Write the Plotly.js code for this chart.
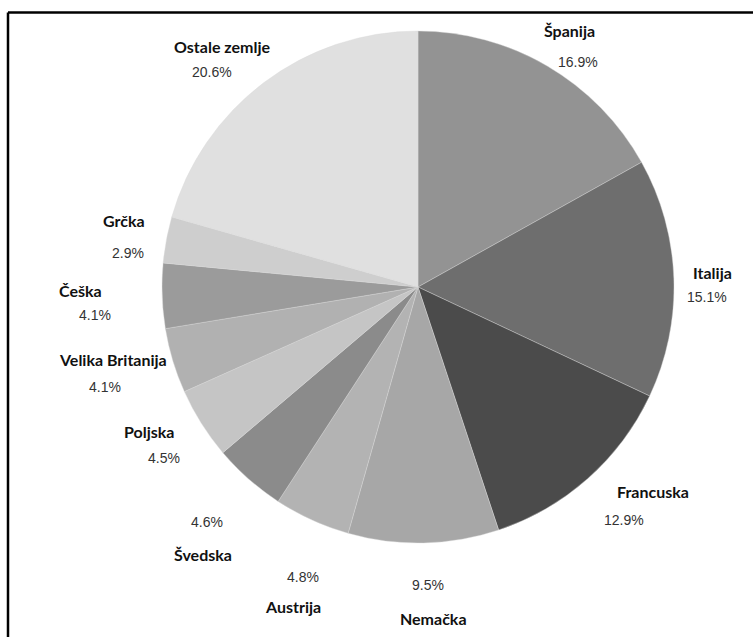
<!DOCTYPE html>
<html>
<head>
<meta charset="utf-8">
<script src="https://cdn.plot.ly/plotly-3.0.1.min.js"></script>
<style>html,body{margin:0;padding:0;background:#fff;}#chart{width:753px;height:637px;}</style>
</head>
<body>
<div id="chart"></div>
<script>
// Data
const countries = ["Španija", "Italija", "Francuska", "Nemačka", "Austrija", "Švedska", "Poljska", "Velika Britanija", "Češka", "Grčka", "Ostale zemlje"];
const shares = [16.9, 15.1, 12.9, 9.5, 4.8, 4.6, 4.5, 4.1, 4.1, 2.9, 20.6];
const sliceColors = ["#939393", "#6e6e6e", "#4b4b4b", "#a7a7a7", "#b3b3b3", "#8b8b8b", "#c5c5c5", "#b1b1b1", "#9b9b9b", "#cecece", "#e0e0e0"];

// Label placement (pixels from top-left): [nameX, nameY, pctX, pctY]
const W = 753, H = 637;
const labelPos = {
  "Španija": [569, 31, 578, 62],
  "Italija": [712, 272, 707, 297],
  "Francuska": [653, 492, 624, 520],
  "Nemačka": [433, 618, 428, 585],
  "Austrija": [293, 606, 303, 577],
  "Švedska": [203, 554, 207, 522],
  "Poljska": [149, 431, 164, 458],
  "Velika Britanija": [113, 359, 105, 387],
  "Češka": [80, 290, 95, 315],
  "Grčka": [124, 221, 128, 253],
  "Ostale zemlje": [222, 46, 212, 72]
};

const annotations = [];
countries.forEach((c, i) => {
  const p = labelPos[c];
  annotations.push({
    x: p[0] / W, y: 1 - p[1] / H, xref: 'paper', yref: 'paper',
    xanchor: 'center', yanchor: 'middle', showarrow: false,
    text: '<b>' + c + '</b>',
    font: {family: 'Lato, "Open Sans", sans-serif', size: 16, color: '#111'}
  });
  annotations.push({
    x: p[2] / W, y: 1 - p[3] / H, xref: 'paper', yref: 'paper',
    xanchor: 'center', yanchor: 'middle', showarrow: false,
    text: shares[i].toFixed(1) + '%',
    font: {family: '"Liberation Sans", Arial, sans-serif', size: 14, color: '#333'}
  });
});

const cx = 418, cy = 287, r = 256;
const trace = {
  type: 'pie',
  labels: countries,
  values: shares,
  sort: false,
  direction: 'clockwise',
  rotation: 0,
  textinfo: 'none',
  hoverinfo: 'none',
  marker: {colors: sliceColors, line: {color: '#d8d8d8', width: 0.4}},
  domain: {x: [(cx - r) / W, (cx + r) / W], y: [1 - (cy + r) / H, 1 - (cy - r) / H]}
};

const layout = {
  width: W, height: H,
  margin: {l: 0, r: 0, t: 0, b: 0},
  paper_bgcolor: '#fff',
  showlegend: false,
  annotations: annotations,
  shapes: [
    {type: 'line', xref: 'paper', yref: 'paper', x0: 8 / W, x1: 8 / W, y0: 0, y1: 1 - 12.5 / H, line: {color: '#000', width: 2.5}},
    {type: 'line', xref: 'paper', yref: 'paper', x0: 8 / W, x1: 1, y0: 1 - 12.5 / H, y1: 1 - 12.5 / H, line: {color: '#000', width: 2.5}}
  ]
};

Plotly.newPlot('chart', [trace], layout, {staticPlot: true, displayModeBar: false});
</script>
</body>
</html>
